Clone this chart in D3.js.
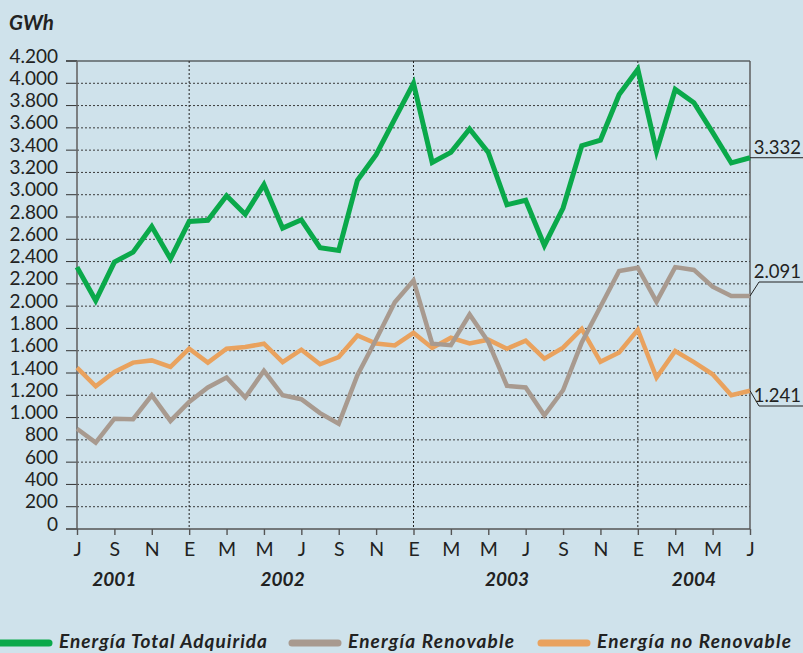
<!DOCTYPE html>
<html>
<head>
<meta charset="utf-8">
<script src="https://cdn.jsdelivr.net/npm/d3@7"></script>
<style>
  body { margin: 0; background: #cfe2eb; }
  svg { display: block; font-family: 'Gill Sans', 'Lato', sans-serif; }
</style>
</head>
<body>
<svg id="chart"></svg>
<script>
// monthly values, Jul 2001 .. Jul 2004 (GWh)
const total = [2350, 2050, 2395, 2485, 2715, 2425,
  2760, 2770, 2990, 2825, 3090, 2700, 2775, 2525, 2500, 3130, 3360, 3680,
  4000, 3290, 3380, 3590, 3380, 2910, 2950, 2545, 2880, 3440, 3490, 3900,
  4125, 3390, 3945, 3825, 3560, 3285, 3332];
const renovable = [900, 775, 990, 985, 1200, 970,
  1140, 1270, 1360, 1180, 1420, 1200, 1165, 1040, 945, 1380, 1700, 2035,
  2230, 1663, 1650, 1925, 1680, 1285, 1270, 1020, 1245, 1675, 1995, 2315,
  2345, 2040, 2350, 2325, 2175, 2090, 2091];
const noRenovable = [1448, 1280, 1410, 1493, 1513, 1455,
  1618, 1493, 1618, 1633, 1663, 1498, 1609, 1478, 1543, 1737, 1665, 1648,
  1760, 1625, 1716, 1665, 1699, 1618, 1690, 1529, 1627, 1795, 1500, 1585,
  1788, 1360, 1597, 1498, 1388, 1200, 1241];
const monthLabels = ['J', 'S', 'N', 'E', 'M', 'M', 'J', 'S', 'N', 'E',
  'M', 'M', 'J', 'S', 'N', 'E', 'M', 'M', 'J'];
const years = ['2001', '2002', '2003', '2004'];
const yearPos = [2, 11, 23, 33]; // month index under which each year is centred
const januaries = [6, 18, 30];
const seriesNames = ['Energía Total Adquirida', 'Energía Renovable', 'Energía no Renovable'];
const colors = ['#0aa94a', '#a89a8f', '#e9a25e'];

const w = 803;
const h = 653;
const padLeft = 77;
const padRight = 750;
const padTop = 61;
const padBottom = 529;

const svg = d3.select('#chart').attr('width', w).attr('height', h);

const x = d3.scaleLinear().domain([0, total.length - 1]).range([padLeft, padRight]);
const y = d3.scaleLinear().domain([0, 4200]).range([padBottom, padTop]);

const fmt = (v) => d3.format(',')(v).replace(',', '.');

// unit
svg.append('text')
  .attr('x', 9).attr('y', 30)
  .attr('font-size', 20.5).attr('font-weight', 'bold').attr('font-style', 'italic')
  .attr('fill', '#222')
  .text('GWh');

// horizontal grid (dotted) + short ticks
const yTicks = d3.range(0, 4201, 200);
svg.append('g')
  .selectAll('line')
  .data(yTicks.filter((d) => d > 0 && d < 4200))
  .enter()
  .append('line')
  .attr('x1', padLeft).attr('x2', padRight)
  .attr('y1', (d) => y(d)).attr('y2', (d) => y(d))
  .attr('stroke', '#3a3a3a').attr('stroke-width', 1)
  .attr('stroke-dasharray', '2,2');
svg.append('g')
  .selectAll('line')
  .data(yTicks)
  .enter()
  .append('line')
  .attr('x1', 66).attr('x2', padLeft)
  .attr('y1', (d) => y(d)).attr('y2', (d) => y(d))
  .attr('stroke', '#333').attr('stroke-width', 1);

// vertical dotted lines at each January
svg.append('g')
  .selectAll('line')
  .data(januaries)
  .enter()
  .append('line')
  .attr('x1', (d) => x(d)).attr('x2', (d) => x(d))
  .attr('y1', padTop).attr('y2', padBottom)
  .attr('stroke', '#222').attr('stroke-width', 1)
  .attr('stroke-dasharray', '2,2');

// y labels (sit just above their line)
svg.append('g')
  .selectAll('text')
  .data(yTicks)
  .enter()
  .append('text')
  .attr('x', 58).attr('y', (d) => y(d) + 1.5)
  .attr('text-anchor', 'end')
  .attr('font-size', 19).attr('fill', '#222')
  .text(fmt);

// frame
svg.append('line').attr('x1', 66).attr('x2', padRight).attr('y1', padTop).attr('y2', padTop)
  .attr('stroke', '#222').attr('stroke-width', 1.2);
svg.append('line').attr('x1', padRight).attr('x2', padRight).attr('y1', padTop).attr('y2', padBottom)
  .attr('stroke', '#555').attr('stroke-width', 1.4);
svg.append('line').attr('x1', padLeft).attr('x2', padLeft).attr('y1', padTop).attr('y2', padBottom)
  .attr('stroke', '#666').attr('stroke-width', 1.6);

// x axis
const xAxis = d3.axisBottom(x)
  .tickValues(d3.range(0, total.length, 2))
  .tickSize(6)
  .tickFormat((d, i) => monthLabels[i]);
const gx = svg.append('g')
  .attr('transform', 'translate(0,' + padBottom + ')')
  .call(xAxis);
gx.select('.domain').remove();
gx.selectAll('.tick line').attr('stroke', '#555').attr('stroke-width', 1.4);
gx.selectAll('.tick text')
  .attr('y', 27).attr('dy', null)
  .attr('font-family', "'Gill Sans', 'Lato', sans-serif")
  .attr('font-size', 19.5).attr('fill', '#222');
svg.append('line').attr('x1', 66).attr('x2', padRight).attr('y1', padBottom).attr('y2', padBottom)
  .attr('stroke', '#555').attr('stroke-width', 1.4);

// years
svg.append('g')
  .selectAll('text')
  .data(years)
  .enter()
  .append('text')
  .attr('x', (d, i) => x(yearPos[i])).attr('y', 586)
  .attr('text-anchor', 'middle')
  .attr('font-size', 19).attr('font-weight', 'bold').attr('font-style', 'italic')
  .attr('fill', '#222')
  .text((d) => d);

// series
const line = d3.line().x((d, i) => x(i)).y((d) => y(d)).curve(d3.curveLinear);
const series = [total, renovable, noRenovable];
const widths = [5, 4.5, 4.5];
[2, 1, 0].forEach((k) => {
  svg.append('path')
    .datum(series[k])
    .attr('d', line)
    .attr('fill', 'none')
    .attr('stroke', colors[k])
    .attr('stroke-width', widths[k])
    .attr('stroke-linejoin', 'miter');
});

// end value labels with leader lines
const last = total.length - 1;
const endLabels = [
  { v: total[last], ly: y(total[last]) },
  { v: renovable[last], ly: 282 },
  { v: noRenovable[last], ly: 406 },
];
endLabels.forEach((d) => {
  const yv = y(d.v);
  const bend = Math.abs(d.ly - yv) > 2 ? padRight + 9 : padRight;
  svg.append('path')
    .attr('d', 'M' + padRight + ',' + yv + 'L' + bend + ',' + d.ly + 'L' + w + ',' + d.ly)
    .attr('fill', 'none').attr('stroke', '#222').attr('stroke-width', 1);
  svg.append('text')
    .attr('x', 801).attr('y', d.ly - 4)
    .attr('text-anchor', 'end')
    .attr('font-size', 18.5).attr('fill', '#222')
    .text(fmt(d.v));
});

// legend
const legendX = [0, 289, 538];
const legendW = [208, 166, 194];
const legend = svg.append('g')
  .selectAll('g')
  .data(seriesNames)
  .enter()
  .append('g')
  .attr('transform', (d, i) => 'translate(' + legendX[i] + ',643)');
legend.append('line')
  .attr('x1', (d, i) => (i === 0 ? -5 : 3)).attr('x2', 49)
  .attr('stroke', (d, i) => colors[i])
  .attr('stroke-width', 7).attr('stroke-linecap', 'round');
legend.append('text')
  .attr('x', 59).attr('y', 5)
  .attr('font-size', 19).attr('font-weight', 'bold').attr('font-style', 'italic')
  .attr('textLength', (d, i) => legendW[i]).attr('lengthAdjust', 'spacing')
  .attr('fill', '#222')
  .text((d) => d);
</script>
</body>
</html>
